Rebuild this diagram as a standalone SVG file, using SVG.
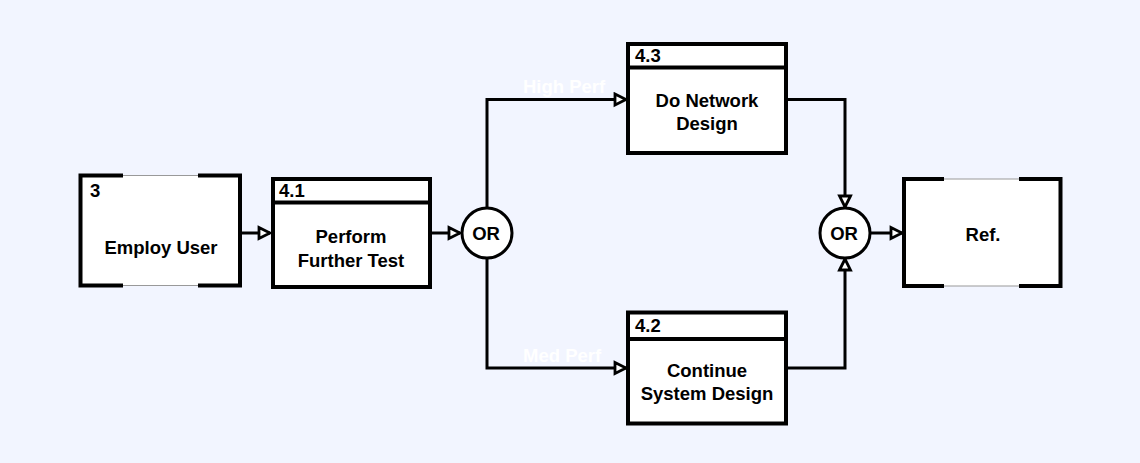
<svg xmlns="http://www.w3.org/2000/svg" width="1140" height="463" viewBox="0 0 1140 463">
<defs>
<style>
.t{font-family:"Liberation Sans",Arial,sans-serif;font-weight:bold;font-size:18.5px;fill:#000}
.c{text-anchor:middle}
.w{fill:#fff}
.box{fill:#fff;stroke:#000;stroke-width:4}
.thin{fill:#fff;stroke:#999;stroke-width:1}
.thick{fill:none;stroke:#000;stroke-width:4;stroke-linecap:square}
.con{fill:none;stroke:#000;stroke-width:3}
.or{fill:#fff;stroke:#000;stroke-width:3}
</style>
<marker id="arr" markerUnits="userSpaceOnUse" markerWidth="16" markerHeight="16" refX="13" refY="8" orient="auto">
<path d="M2,2.5 L13,8 L2,13.5 Z" fill="#fff" stroke="#000" stroke-width="2.8"/>
</marker>
</defs>
<rect x="0" y="0" width="1140" height="463" fill="#F2F5FF"/>

<g id="connectors">
<path class="con" d="M240,233 H270" marker-end="url(#arr)"/>
<path class="con" d="M430,233 H460" marker-end="url(#arr)"/>
<path class="con" d="M487,208 V99.5 H626" marker-end="url(#arr)"/>
<path class="con" d="M487,258 V368 H626" marker-end="url(#arr)"/>
<path class="con" d="M786,99.5 H845 V207" marker-end="url(#arr)"/>
<path class="con" d="M786,368 H845 V259" marker-end="url(#arr)"/>
<path class="con" d="M871,233 H902" marker-end="url(#arr)"/>
<text class="t w" x="523" y="93">High Perf</text>
<text class="t w" x="523" y="362">Med Perf</text>
</g>

<g id="node-3">
<rect class="thin" x="80.5" y="175.5" width="159.5" height="110"/>
<path class="thick" d="M121,175.5 H80.5 V285.5 H121 M200,175.5 H240 V285.5 H200"/>
<text class="t" x="90" y="197">3</text>
<text class="t c" x="161" y="254">Employ User</text>
</g>

<g id="node-4-1">
<rect class="box" x="273" y="179" width="157" height="108"/>
<line class="thick" x1="273" y1="202.5" x2="430" y2="202.5" stroke-linecap="butt"/>
<text class="t" x="279" y="197">4.1</text>
<text class="t c" x="351" y="243">Perform</text>
<text class="t c" x="351" y="267">Further Test</text>
</g>

<g id="or-1">
<circle class="or" cx="487" cy="233" r="25"/>
<text class="t c" x="486" y="240">OR</text>
</g>

<g id="node-4-3">
<rect class="box" x="628" y="44" width="158" height="109"/>
<line class="thick" x1="628" y1="67.5" x2="786" y2="67.5" stroke-linecap="butt"/>
<text class="t" x="635" y="62">4.3</text>
<text class="t c" x="707" y="107">Do Network</text>
<text class="t c" x="707" y="130">Design</text>
</g>

<g id="node-4-2">
<rect class="box" x="628" y="312.5" width="158" height="111"/>
<line class="thick" x1="628" y1="339" x2="786" y2="339" stroke-linecap="butt"/>
<text class="t" x="635" y="332">4.2</text>
<text class="t c" x="707" y="377">Continue</text>
<text class="t c" x="707" y="400">System Design</text>
</g>

<g id="or-2">
<circle class="or" cx="845" cy="233" r="25"/>
<text class="t c" x="844" y="240">OR</text>
</g>

<g id="node-ref">
<rect class="thin" x="904" y="179" width="156.5" height="107"/>
<path class="thick" d="M942,179 H904 V286 H942 M1021,179 H1060.5 V286 H1021"/>
<text class="t c" x="983" y="241">Ref.</text>
</g>
</svg>
